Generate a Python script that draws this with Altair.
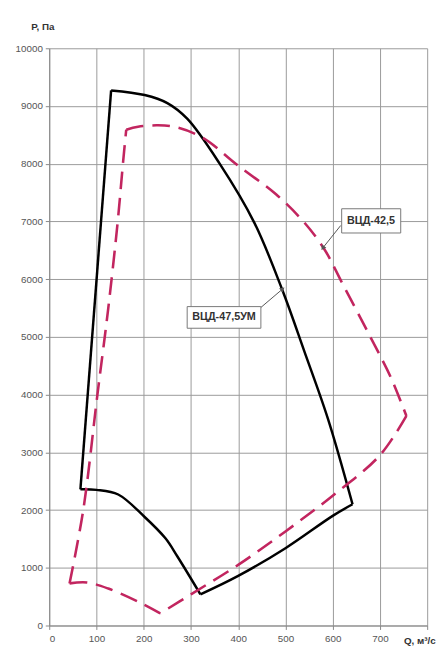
import altair as alt
import pandas as pd

# ВЦД-47,5УМ (solid black outline), traced as pieces between its corners
black_seg = ["left"] * 2 + ["top-right"] * 10 + ["bottom-right"] * 5 + ["bottom-left"] * 7
q_black = [66, 131,
           131, 202, 250, 292, 360, 434, 494, 540, 590, 642,
           642, 600, 500, 400, 320,
           320, 271, 246, 202, 146, 100, 66]
p_black = [2360, 9270,
           9270, 9190, 9050, 8780, 8010, 6980, 5800, 4750, 3580, 2100,
           2100, 1900, 1340, 860, 540,
           540, 1200, 1510, 1880, 2270, 2350, 2360]

# ВЦД-42,5 (dashed crimson outline)
red_seg = ["left"] * 7 + ["top-right"] * 13 + ["bottom-right"] * 7 + ["bottom-left"] * 5
q_red = [43, 72, 102, 125, 145, 156, 163,
         163, 188, 230, 270, 327, 396, 480, 540, 583, 619, 681, 723, 756,
         756, 700, 600, 500, 400, 300, 235,
         235, 194, 125, 80, 43]
p_red = [730, 2000, 4000, 5500, 7000, 8000, 8590,
         8590, 8640, 8665, 8630, 8440, 7990, 7470, 6980, 6510, 5950, 4980, 4300, 3630,
         3630, 2950, 2250, 1630, 1050, 540, 210,
         210, 390, 640, 745, 730]

labels = ["ВЦД-42,5", "ВЦД-47,5УМ"]
label_q = [681, 370]
label_p = [7010, 5340]
box_q1 = [619, 292]
box_q2 = [744, 448]
box_p1 = [6800, 5150]
box_p2 = [7220, 5525]
arrow_q1 = [617, 448]
arrow_p1 = [6930, 5510]
arrow_q2 = [579, 494]
arrow_p2 = [6540, 5830]
arrow_angle = [216, 51]

df_black = pd.DataFrame({"Q": q_black, "P": p_black, "seg": black_seg, "i": range(len(q_black))})
df_red = pd.DataFrame({"Q": q_red, "P": p_red, "seg": red_seg, "i": range(len(q_red))})
df_lab = pd.DataFrame({"label": labels, "Q": label_q, "P": label_p,
                       "bq1": box_q1, "bq2": box_q2, "bp1": box_p1, "bp2": box_p2,
                       "aq1": arrow_q1, "ap1": arrow_p1, "aq2": arrow_q2, "ap2": arrow_p2,
                       "ang": arrow_angle})

xscale = alt.Scale(domain=[0, 800], nice=False, zero=False)
yscale = alt.Scale(domain=[0, 10000], nice=False)

xaxis = alt.Axis(values=list(range(0, 801, 100)), labelExpr="datum.value == 800 ? '' : datum.label",
                 title="Q, м³/с", titleX=377, titleY=18, titleAlign="center",
                 titleBaseline="alphabetic", titleFontSize=10, titleFontWeight="bold",
                 titleColor="#333", labelFontSize=10, labelColor="#555", labelPadding=4,
                 tickSize=4, tickColor="#888", domainColor="#888", gridColor="#9a9a9a",
                 labelFont="Liberation Sans", titleFont="Liberation Sans", format="d")
yaxis = alt.Axis(values=list(range(0, 10001, 1000)), title="P, Па", titleAngle=0,
                 titleX=-7, titleY=-19, titleAlign="center", titleBaseline="alphabetic",
                 titleFontSize=10, titleFontWeight="bold", titleColor="#333",
                 labelFontSize=10, labelColor="#555", labelPadding=3, tickSize=4,
                 tickColor="#888", domainColor="#888", gridColor="#9a9a9a",
                 labelFont="Liberation Sans", titleFont="Liberation Sans", format="d")

black = alt.Chart(df_black).mark_line(color="#000000", strokeWidth=2.5, strokeJoin="miter",
                                      interpolate="catmull-rom").encode(
    x=alt.X("Q:Q", scale=xscale, axis=xaxis),
    y=alt.Y("P:Q", scale=yscale, axis=yaxis),
    detail="seg:N",
    order="i:Q",
)
red = alt.Chart(df_red).mark_line(color="#c2255f", strokeWidth=2.6, strokeDash=[18, 9],
                                  strokeJoin="miter", interpolate="catmull-rom").encode(
    x=alt.X("Q:Q", scale=xscale),
    y=alt.Y("P:Q", scale=yscale),
    detail="seg:N",
    order="i:Q",
)

boxes = alt.Chart(df_lab).mark_rect(fill="white", stroke="#777", strokeWidth=1).encode(
    x=alt.X("bq1:Q", scale=xscale), x2="bq2:Q",
    y=alt.Y("bp1:Q", scale=yscale), y2="bp2:Q",
)
texts = alt.Chart(df_lab).mark_text(font="Liberation Sans", fontSize=11, fontWeight="bold",
                                    color="#333").encode(
    x=alt.X("Q:Q", scale=xscale), y=alt.Y("P:Q", scale=yscale), text="label:N",
)
arrows = alt.Chart(df_lab).mark_rule(color="#555", strokeWidth=1).encode(
    x=alt.X("aq1:Q", scale=xscale), x2="aq2:Q",
    y=alt.Y("ap1:Q", scale=yscale), y2="ap2:Q",
)
heads = alt.Chart(df_lab).mark_point(shape="triangle-up", filled=True, color="#555",
                                     size=30, opacity=1).encode(
    x=alt.X("aq2:Q", scale=xscale), y=alt.Y("ap2:Q", scale=yscale),
    angle=alt.Angle("ang:Q", scale=None),
)

chart = alt.layer(black, red, arrows, heads, boxes, texts).properties(
    width=385, height=588,
    autosize=alt.AutoSizeParams(type="none"),
    padding={"left": 42, "top": 35, "right": 10, "bottom": 24},
    background="white",
).configure_view(stroke=None)

chart.save("out.html", embed_options={"renderer": "svg", "actions": False})
